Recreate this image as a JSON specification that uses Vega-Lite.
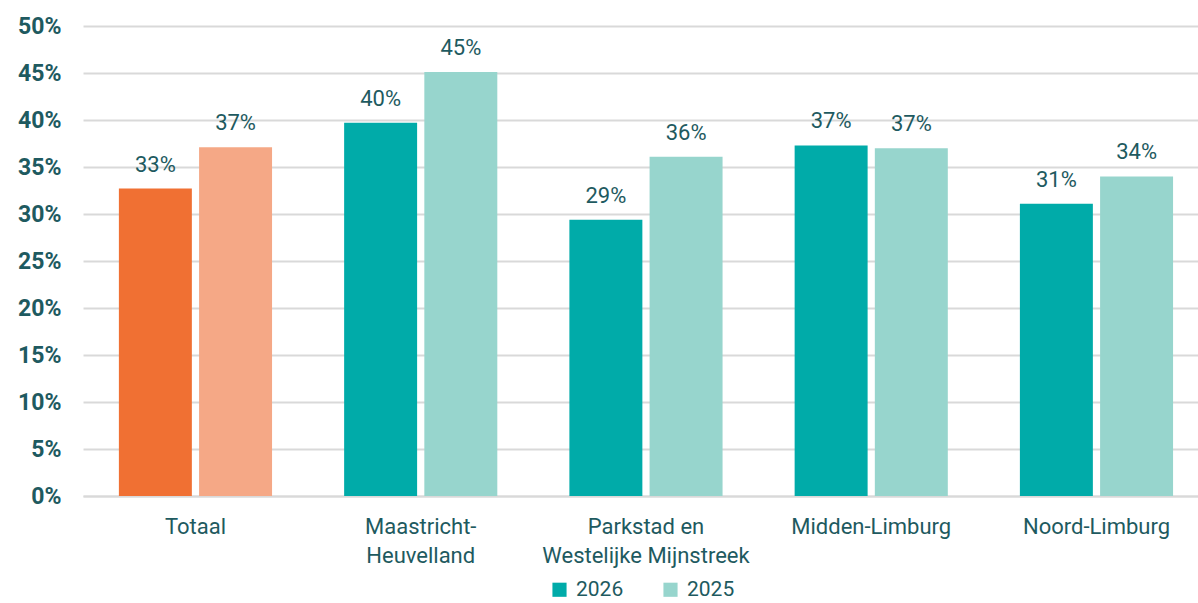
{
  "$schema": "https://vega.github.io/schema/vega-lite/v6.json",
  "width": 1115,
  "height": 470,
  "autosize": {"type": "none"},
  "padding": {"top": 26, "left": 83, "right": 0, "bottom": 107},
  "background": "white",
  "config": {
    "font": "Roboto",
    "view": {"stroke": null}
  },
  "data": {
    "values": [
      {"regio": "Totaal", "jaar": "2026", "waarde": 0.327},
      {"regio": "Totaal", "jaar": "2025", "waarde": 0.371},
      {"regio": "Maastricht-Heuvelland", "jaar": "2026", "waarde": 0.397},
      {"regio": "Maastricht-Heuvelland", "jaar": "2025", "waarde": 0.451},
      {"regio": "Parkstad en Westelijke Mijnstreek", "jaar": "2026", "waarde": 0.294},
      {"regio": "Parkstad en Westelijke Mijnstreek", "jaar": "2025", "waarde": 0.361},
      {"regio": "Midden-Limburg", "jaar": "2026", "waarde": 0.373},
      {"regio": "Midden-Limburg", "jaar": "2025", "waarde": 0.370},
      {"regio": "Noord-Limburg", "jaar": "2026", "waarde": 0.311},
      {"regio": "Noord-Limburg", "jaar": "2025", "waarde": 0.340}
    ]
  },
  "encoding": {
    "x": {
      "field": "regio",
      "type": "nominal",
      "sort": null,
      "scale": {"paddingInner": 0.32, "paddingOuter": 0.135, "align": 0.59},
      "axis": {
        "title": null,
        "labelAngle": 0,
        "ticks": false,
        "domain": true,
        "domainColor": "#D9D9D9",
        "domainWidth": 2,
        "labelFontSize": 22,
        "labelColor": "#1E5A60",
        "labelPadding": 20,
        "labelLineHeight": 29,
        "labelBaseline": "top",
        "labelLimit": 400,
        "labelExpr": "datum.value === 'Maastricht-Heuvelland' ? ['Maastricht-', 'Heuvelland'] : datum.value === 'Parkstad en Westelijke Mijnstreek' ? ['Parkstad en', 'Westelijke Mijnstreek'] : datum.value"
      }
    },
    "xOffset": {"field": "jaar", "type": "nominal", "sort": ["2026", "2025"], "scale": {"paddingInner": 0.09}},
    "y": {
      "field": "waarde",
      "type": "quantitative",
      "scale": {"domain": [0, 0.5]},
      "axis": {
        "title": null,
        "format": ".0%",
        "values": [0, 0.05, 0.1, 0.15, 0.2, 0.25, 0.3, 0.35, 0.4, 0.45, 0.5],
        "ticks": false,
        "domain": false,
        "grid": true,
        "gridColor": "#D9D9D9",
        "gridWidth": 2,
        "labelFontSize": 23,
        "labelFontWeight": "bold",
        "labelColor": "#1E5A60",
        "labelPadding": 22
      }
    }
  },
  "layer": [
    {
      "mark": {"type": "bar"},
      "encoding": {
        "color": {
          "field": "jaar",
          "type": "nominal",
          "sort": ["2026", "2025"],
          "scale": {"domain": ["2026", "2025"], "range": ["#00ABA9", "#97D5CD"]},
          "condition": [
            {"test": "datum.regio === 'Totaal' && datum.jaar === '2026'", "value": "#F07033"},
            {"test": "datum.regio === 'Totaal' && datum.jaar === '2025'", "value": "#F5A886"}
          ],
          "legend": {
            "title": null,
            "orient": "none",
            "legendX": 466,
            "legendY": 553,
            "direction": "horizontal",
            "symbolType": "square",
            "symbolSize": 200,
            "symbolStrokeWidth": 0,
            "labelFontSize": 21,
            "labelColor": "#1E5A60",
            "labelOffset": 6,
            "columnPadding": 36
          }
        }
      }
    },
    {
      "mark": {"type": "text", "dy": -24, "fontSize": 22, "color": "#1E5A60"},
      "encoding": {
        "text": {"field": "waarde", "type": "quantitative", "format": ".0%"}
      }
    }
  ]
}
